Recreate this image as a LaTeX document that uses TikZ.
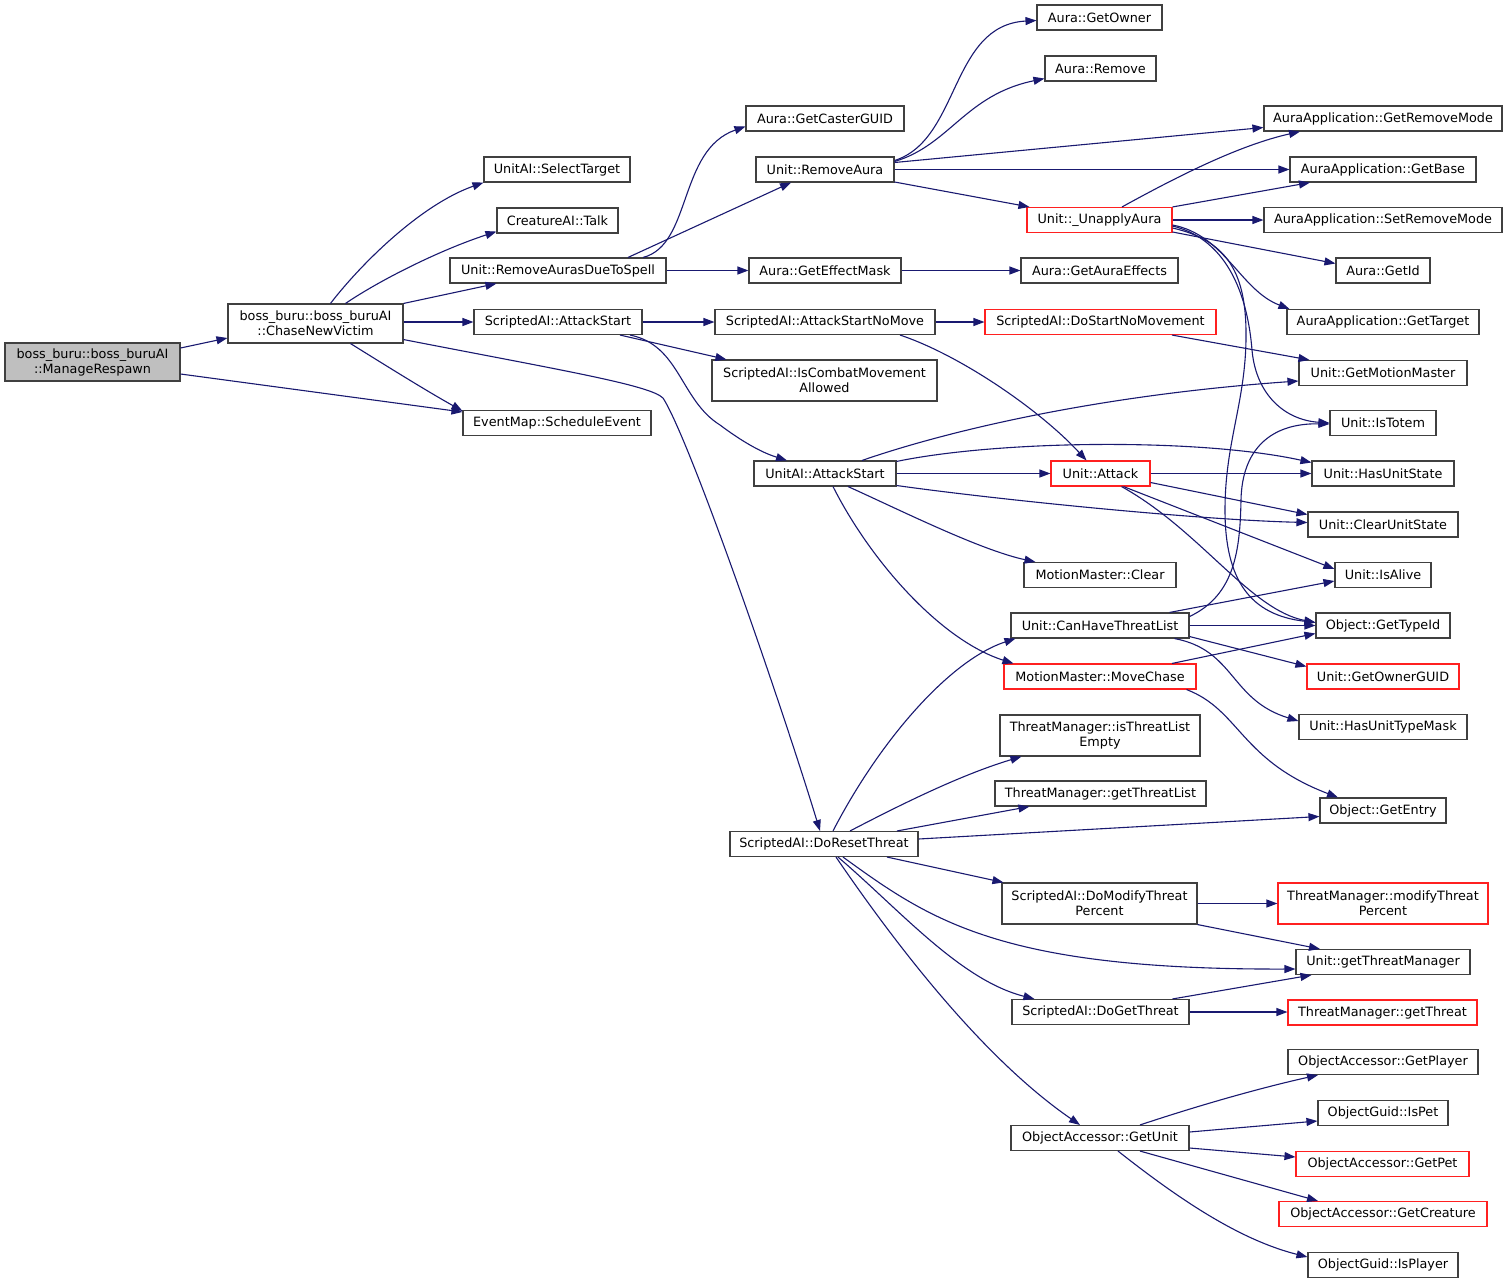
\documentclass[tikz,border=0pt]{standalone}
\usepackage{fontspec}
\setmainfont{DejaVu Sans}
\usetikzlibrary{arrows.meta,calc}
\definecolor{edgec}{HTML}{191970}
\definecolor{bordc}{HTML}{404040}
\definecolor{redc}{HTML}{FF2020}
\definecolor{grayfill}{HTML}{BFBFBF}
\begin{document}
\begin{tikzpicture}[x=1pt,y=-1pt,
  box/.style={draw=bordc, line width=1.1pt, fill=white, inner sep=0pt, minimum height=25pt,
    font=\fontsize{12.8}{15}\selectfont, align=center},
  redbox/.style={box, draw=redc},
  two/.style={minimum height=40pt},
  edge/.style={draw=edgec, line width=1.1pt, -{Triangle[length=11pt,width=8pt]}}]
\useasboundingbox (0,0) rectangle (1508,1285);
\fill[white] (0,0) rectangle (1508,1285);
% column 0/1
\node[box, two, fill=grayfill, minimum width=175pt, minimum height=38pt] (mr) at (92.5,362) {boss\_buru::boss\_buruAI\\::ManageRespawn};
\node[box, two, minimum width=175pt, minimum height=39pt] (cnv) at (315.5,323.5) {boss\_buru::boss\_buruAI\\::ChaseNewVictim};
% column 2
\node[box, minimum width=146pt] (st) at (557,169.5) {UnitAI::SelectTarget};
\node[box, minimum width=121pt] (talk) at (557.5,220.5) {CreatureAI::Talk};
\node[box, minimum width=216pt] (rads) at (558,270.5) {Unit::RemoveAurasDueToSpell};
\node[box, minimum width=168pt] (sas) at (558,322) {ScriptedAI::AttackStart};
\node[box, minimum width=188pt] (se) at (557,423) {EventMap::ScheduleEvent};
% column 3
\node[box, minimum width=158pt] (gcg) at (825,118.5) {Aura::GetCasterGUID};
\node[box, minimum width=138pt] (ra) at (825,169.5) {Unit::RemoveAura};
\node[box, minimum width=152pt] (gem) at (825,270.5) {Aura::GetEffectMask};
\node[box, minimum width=220pt] (asnm) at (825,322) {ScriptedAI::AttackStartNoMove};
\node[box, two, minimum width=225pt, minimum height=41pt] (icma) at (824.5,380.5) {ScriptedAI::IsCombatMovement\\Allowed};
\node[box, minimum width=142pt] (uas) at (825,473.5) {UnitAI::AttackStart};
\node[box, minimum width=188pt] (drt) at (824,844) {ScriptedAI::DoResetThreat};
% column 4
\node[box, minimum width=125pt] (go) at (1099.5,17.5) {Aura::GetOwner};
\node[box, minimum width=111pt] (rem) at (1100.5,68.5) {Aura::Remove};
\node[redbox, minimum width=145pt] (ua) at (1099.5,220) {Unit::\_UnapplyAura};
\node[box, minimum width=157pt] (gae) at (1099.5,270.5) {Aura::GetAuraEffects};
\node[redbox, minimum width=231pt] (dsnm) at (1100.5,322) {ScriptedAI::DoStartNoMovement};
\node[redbox, minimum width=99pt] (att) at (1100.5,473.5) {Unit::Attack};
\node[box, minimum width=152pt] (mmc) at (1100,575) {MotionMaster::Clear};
\node[box, minimum width=178pt] (chtl) at (1100,625.5) {Unit::CanHaveThreatList};
\node[redbox, minimum width=192pt] (mc) at (1100,676.5) {MotionMaster::MoveChase};
\node[box, two, minimum width=200pt, minimum height=41pt] (itle) at (1100,735.5) {ThreatManager::isThreatList\\Empty};
\node[box, minimum width=211pt] (gtl) at (1100.5,793.5) {ThreatManager::getThreatList};
\node[box, two, minimum width=195pt, minimum height=41pt] (dmtp) at (1099.5,903.5) {ScriptedAI::DoModifyThreat\\Percent};
\node[box, minimum width=177pt] (dgt) at (1100.5,1012) {ScriptedAI::DoGetThreat};
\node[box, minimum width=178pt] (gu) at (1100,1138) {ObjectAccessor::GetUnit};
% column 5
\node[box, minimum width=238pt] (grm) at (1383,118.5) {AuraApplication::GetRemoveMode};
\node[box, minimum width=186pt] (gb) at (1383,169.5) {AuraApplication::GetBase};
\node[box, minimum width=238pt] (srm) at (1383,220) {AuraApplication::SetRemoveMode};
\node[box, minimum width=94pt] (gid) at (1383,270.5) {Aura::GetId};
\node[box, minimum width=192pt] (gt) at (1383,322) {AuraApplication::GetTarget};
\node[box, minimum width=168pt] (gmm) at (1383,373) {Unit::GetMotionMaster};
\node[box, minimum width=106pt] (it) at (1383,423) {Unit::IsTotem};
\node[box, minimum width=142pt] (hus) at (1383,473.5) {Unit::HasUnitState};
\node[box, minimum width=150pt] (cus) at (1383,524.5) {Unit::ClearUnitState};
\node[box, minimum width=96pt] (ia) at (1383,575) {Unit::IsAlive};
\node[box, minimum width=134pt] (gti) at (1383,625.5) {Object::GetTypeId};
\node[redbox, minimum width=152pt] (gog) at (1383,676.5) {Unit::GetOwnerGUID};
\node[box, minimum width=168pt] (hutm) at (1383,727) {Unit::HasUnitTypeMask};
\node[box, minimum width=126pt] (ge) at (1383,810.5) {Object::GetEntry};
\node[redbox, two, minimum width=210pt, minimum height=41pt] (mtp) at (1383,903.5) {ThreatManager::modifyThreat\\Percent};
\node[box, minimum width=174pt] (gtm) at (1383,962) {Unit::getThreatManager};
\node[redbox, minimum width=189pt] (gth) at (1382.5,1012.5) {ThreatManager::getThreat};
\node[box, minimum width=190pt] (gp) at (1383,1062) {ObjectAccessor::GetPlayer};
\node[box, minimum width=130pt] (ip) at (1383,1113) {ObjectGuid::IsPet};
\node[redbox, minimum width=173pt] (gpet) at (1382.5,1164) {ObjectAccessor::GetPet};
\node[redbox, minimum width=208pt] (gc) at (1383,1214) {ObjectAccessor::GetCreature};
\node[box, minimum width=150pt] (ipl) at (1383,1265) {ObjectGuid::IsPlayer};

% ---- edges ----
\path[edge] ($(mr.east)+(0,-14)$) -- ($(cnv.west)+(0,14.5)$);
\path[edge] ($(mr.east)+(0,12)$) -- ($(se.west)+(0,-11)$);
\path[edge] ($(cnv.north)+(15,0)$) .. controls (360,265) and (420,205) .. (st.south west);
\path[edge] ($(cnv.north)+(30,0)$) .. controls (380,280) and (440,250) .. ($(talk.south west)+(0,-2)$);
\path[edge] (cnv.north east) -- ($(rads.south west)+(47,0)$);
\path[edge] (cnv.east |- sas.west) -- (sas.west);
\path[edge] ($(cnv.south)+(35,0)$) .. controls (385,365) and (425,390) .. ($(se.north west)+(0,1)$);
\path[edge] ($(cnv.south east)+(0,-4)$) .. controls (560,370) and (650,385) .. (663,398) .. controls (690,440) and (780,700) .. ($(drt.north)+(-4,0)$);
% RemoveAurasDueToSpell
\path[edge] ($(rads.north)+(85,0)$) .. controls (692,245) and (678,150) .. ($(gcg.west)+(0,8)$);
\path[edge] ($(rads.north)+(70,0)$) -- ($(ra.south)+(-34,0)$);
\path[edge] (rads.east) -- (gem.west);
% ScriptedAI::AttackStart
\path[edge] (sas.east) -- (asnm.west);
\path[edge] ($(sas.south)+(62,0)$) -- ($(icma.north west)+(15,0)$);
\path[edge] ($(sas.south)+(72,0)$) .. controls (680,345) and (680,400) .. (720,425) .. controls (740,440) and (760,452) .. ($(uas.north)+(-38,0)$);
% Unit::RemoveAura
\path[edge] ($(ra.east)+(0,-9)$) .. controls (960,140) and (950,25) .. ($(go.west)+(0,3)$);
\path[edge] ($(ra.east)+(0,-8)$) .. controls (950,145) and (965,95) .. ($(rem.south west)+(0,-3)$);
\path[edge] ($(ra.east)+(0,-7)$) -- ($(grm.west)+(0,9)$);
\path[edge] (ra.east) -- (gb.west);
\path[edge] ($(ra.east)+(0,12.5)$) -- ($(ua.north west)+(3,0)$);
% GetEffectMask, AttackStartNoMove
\path[edge] (gem.east) -- (gae.west);
\path[edge] (asnm.east) -- (dsnm.west);
\path[edge] ($(asnm.south)+(75,0)$) .. controls (960,355) and (1040,410) .. ($(att.north)+(-14,0)$);
% Unit::_UnapplyAura
\path[edge] ($(ua.north)+(22.5,0)$) .. controls (1180,175) and (1240,145) .. ($(grm.south)+(-83,0)$);
\path[edge] (ua.north east) -- ($(gb.south)+(-73,0)$);
\path[edge] (ua.east) -- (srm.west);
\path[edge] ($(ua.east)+(0,12)$) -- ($(gid.west)+(0,-7)$);
\path[edge] ($(ua.east)+(0,5)$) .. controls (1225,235) and (1240,290) .. ($(gt.north west)+(3,0)$);
\path[edge] ($(ua.east)+(0,6)$) .. controls (1230,240) and (1248,300) .. (1252,350) .. controls (1256,395) and (1285,420) .. (it.west);
\path[edge] ($(ua.east)+(0,8)$) .. controls (1225,240) and (1245,270) .. (1246,330) .. controls (1247,400) and (1225,440) .. (1225,510) .. controls (1225,580) and (1250,615) .. ($(gti.west)+(0,-3)$);
% DoStartNoMovement
\path[edge] ($(dsnm.south)+(71.5,0)$) -- ($(gmm.north west)+(11,0)$);
% UnitAI::AttackStart
\path[edge] ($(uas.north)+(37,0)$) .. controls (950,430) and (1100,395) .. ($(gmm.west)+(0,8)$);
\path[edge] ($(uas.north east)+(0,1)$) .. controls (1000,440) and (1200,438) .. ($(hus.west)+(0,-11)$);
\path[edge] (uas.east) -- (att.west);
\path[edge] ($(uas.east)+(0,12)$) .. controls (1000,500) and (1200,520) .. ($(cus.west)+(0,-2)$);
\path[edge] ($(uas.south)+(23,0)$) .. controls (900,510) and (980,550) .. ($(mmc.north west)+(12,0)$);
\path[edge] ($(uas.south)+(8,0)$) .. controls (870,560) and (940,640) .. ($(mc.north west)+(10,0)$);
% Unit::Attack
\path[edge] (att.east) -- (hus.west);
\path[edge] ($(att.east)+(0,9)$) -- ($(cus.west)+(0,-10)$);
\path[edge] ($(att.south)+(23,0)$) -- ($(ia.west)+(0,-6)$);
\path[edge] ($(att.south)+(21,0)$) .. controls (1200,530) and (1250,610) .. ($(gti.west)+(0,-3)$);
% CanHaveThreatList
\path[edge] ($(chtl.north east)+(-20,0)$) -- ($(ia.west)+(0,6)$);
\path[edge] (chtl.east) -- (gti.west);
\path[edge] ($(chtl.east)+(0,11)$) -- ($(gog.west)+(0,-10)$);
\path[edge] ($(chtl.south east)+(-15,0)$) .. controls (1235,650) and (1230,700) .. ($(hutm.west)+(0,-6)$);
\path[edge] ($(chtl.east)+(0,-9)$) .. controls (1235,595) and (1240,550) .. (1241,500) .. controls (1242,450) and (1270,423) .. ($(it.west)+(0,1)$);
% MoveChase
\path[edge] ($(mc.north)+(72,0)$) -- ($(gti.west)+(0,8)$);
\path[edge] ($(mc.south east)+(-10,0)$) .. controls (1240,710) and (1240,760) .. ($(ge.north)+(-45,0)$);
% DoResetThreat
\path[edge] ($(drt.north)+(9,0)$) .. controls (880,740) and (950,660) .. ($(chtl.south west)+(5,0)$);
\path[edge] ($(drt.north)+(26,0)$) .. controls (900,805) and (960,775) .. ($(itle.south west)+(22,0)$);
\path[edge] ($(drt.north)+(73,0)$) -- ($(gtl.south west)+(35,0)$);
\path[edge] ($(drt.east)+(0,-5)$) -- ($(ge.west)+(0,6)$);
\path[edge] ($(drt.south)+(63,0)$) -- ($(dmtp.north west)+(2,0)$);
\path[edge] ($(drt.south)+(19,0)$) .. controls (930,920) and (1000,970) .. ($(gtm.west)+(0,7)$);
\path[edge] ($(drt.south)+(14,0)$) .. controls (900,910) and (960,980) .. ($(dgt.north west)+(23,0)$);
\path[edge] ($(drt.south)+(12,0)$) .. controls (920,980) and (1000,1070) .. ($(gu.north)+(-20,0)$);
% DoModifyThreatPercent, DoGetThreat
\path[edge] (dmtp.east) -- (mtp.west);
\path[edge] (dmtp.south east) -- ($(gtm.north)+(-63,0)$);
\path[edge] ($(dgt.north)+(72,0)$) -- ($(gtm.south west)+(16,0)$);
\path[edge] (dgt.east) -- (gth.west |- dgt.east);
% ObjectAccessor::GetUnit
\path[edge] ($(gu.north)+(40,0)$) .. controls (1200,1105) and (1260,1088) .. ($(gp.south)+(-65,0)$);
\path[edge] ($(gu.east)+(0,-6)$) -- ($(ip.west)+(0,8)$);
\path[edge] ($(gu.east)+(0,10)$) -- ($(gpet.west)+(0,-7)$);
\path[edge] ($(gu.south)+(40,0)$) -- ($(gc.north)+(-65,0)$);
\path[edge] ($(gu.south)+(18,0)$) .. controls (1180,1200) and (1240,1240) .. ($(ipl.west)+(0,-8)$);
\end{tikzpicture}
\end{document}
